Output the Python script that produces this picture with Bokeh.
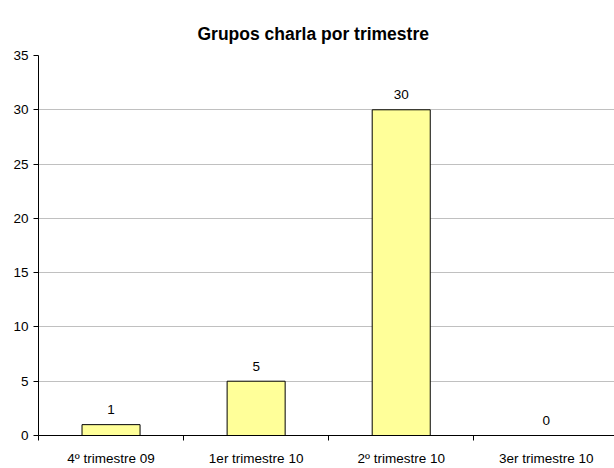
from bokeh.plotting import figure
from bokeh.models import FixedTicker, Range1d, ColumnDataSource
from bokeh.embed import file_html
from bokeh.resources import INLINE

categories = ["4º trimestre 09", "1er trimestre 10", "2º trimestre 10", "3er trimestre 10"]
values = [1, 5, 30, 0]
y_ticks = [0, 5, 10, 15, 20, 25, 30, 35]

xs = [i + 0.5 for i in range(len(categories))]
src = ColumnDataSource(dict(x=xs, top=values, label=[str(v) for v in values]))

p = figure(width=614, height=468, output_backend="svg", toolbar_location=None,
           x_range=Range1d(0, 3.97), y_range=Range1d(0, 35),
           min_border_left=38, min_border_right=0, min_border_top=55, min_border_bottom=29,
           title="Grupos charla por trimestre")
p.title.text_font = "Liberation Sans"
p.title.text_font_size = "17.5px"
p.title.text_font_style = "bold"
p.title.text_color = "black"
p.title.align = "left"
p.title.offset = 159
p.title.standoff = 24
p.outline_line_color = None
p.background_fill_color = "white"
p.border_fill_color = "white"

p.vbar(x="x", top="top", width=0.40, bottom=0, source=src,
       fill_color="#FFFF99", line_color="black", line_width=1)
p.text(x="x", y="top", text="label", source=src, text_align="center",
       text_baseline="alphabetic", y_offset=-15, text_font_size="13.5px",
       text_font={"value": "Liberation Sans"}, text_color="black")

p.xaxis.ticker = FixedTicker(ticks=xs, minor_ticks=list(range(len(categories) + 1)))
p.xaxis.major_label_overrides = {x: c for x, c in zip(xs, categories)}
p.xaxis.major_tick_out = 0
p.xaxis.major_tick_in = 0
p.xaxis.minor_tick_out = 5
p.xaxis.minor_tick_in = 0
p.xaxis.major_label_standoff = 10
p.xaxis.axis_line_color = "black"
p.xaxis.minor_tick_line_color = "black"

p.yaxis.ticker = FixedTicker(ticks=y_ticks)
p.yaxis.major_tick_out = 5
p.yaxis.major_tick_in = 0
p.yaxis.minor_tick_line_color = None
p.yaxis.major_label_standoff = 5
p.yaxis.axis_line_color = "black"
p.yaxis.major_tick_line_color = "black"

for ax in (p.xaxis, p.yaxis):
    ax.major_label_text_font = "Liberation Sans"
    ax.major_label_text_font_size = "13.5px"
    ax.major_label_text_color = "black"

p.xgrid.grid_line_color = None
p.ygrid.grid_line_color = "#c0c0c0"
p.ygrid.ticker = FixedTicker(ticks=y_ticks)

open("out.html", "w").write(file_html(p, INLINE))
